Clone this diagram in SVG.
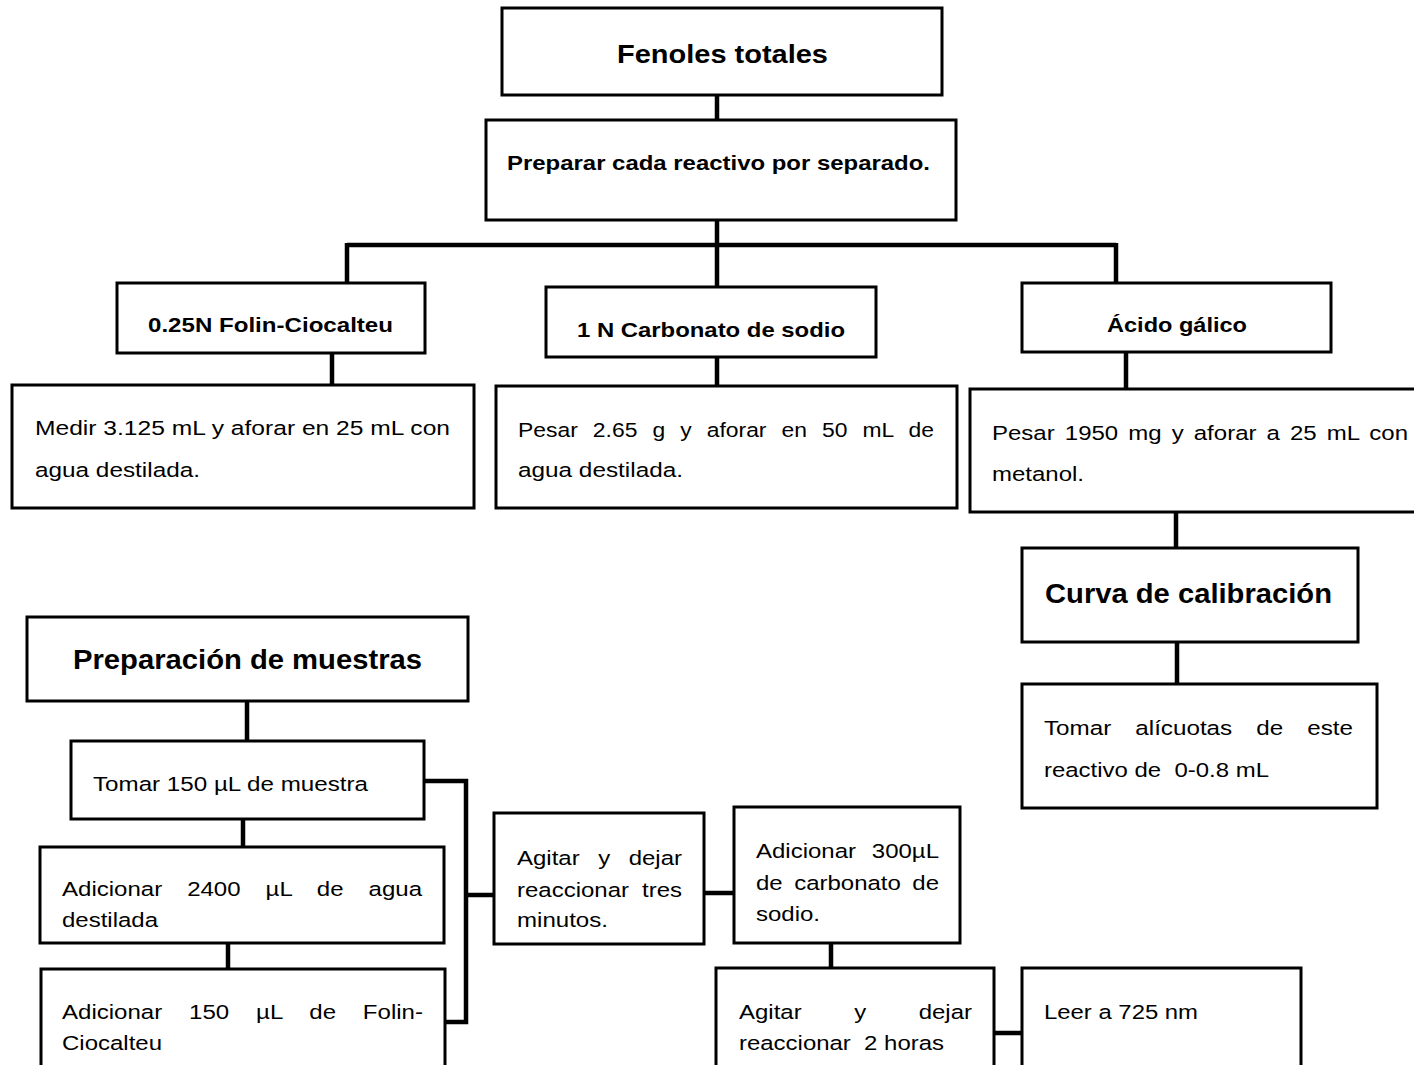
<svg xmlns="http://www.w3.org/2000/svg" width="1414" height="1065" viewBox="0 0 1414 1065">
<style>
.box{fill:#fff;stroke:#000;stroke-width:3}
.cn{fill:none;stroke:#000;stroke-width:4.5;stroke-linejoin:miter}
text{font-family:"Liberation Sans",Arial,sans-serif;fill:#000}
.h1{font-size:25px;font-weight:bold}
.h2{font-size:27px;font-weight:bold}
.b{font-size:20.5px;font-weight:bold}
.t{font-size:20.5px}
</style>
<rect width="1414" height="1065" fill="#fff"/>
<g id="connectors">
<path class="cn" d="M717 95V120M717 220V287M347 245H1116M347 243V283M1116 243V283M332 353V385M717 357V386M1126 352V389M1176 512V548M1177 642V684M247 701V741M243 819V847M228 943V969"/>
<path class="cn" stroke-width="4" d="M424 781H466V1022H445M466 895H494M704 893H734M831 943V968M994 1033H1022"/>
</g>
<g id="n1"><rect class="box" x="502" y="8" width="440" height="87"/><text class="h1" x="617" y="63" textLength="211" lengthAdjust="spacingAndGlyphs">Fenoles totales</text></g>
<g id="n2"><rect class="box" x="486" y="120" width="470" height="100"/><text class="b" x="507" y="170" textLength="423" lengthAdjust="spacingAndGlyphs">Preparar cada reactivo por separado.</text></g>
<g id="n3"><rect class="box" x="117" y="283" width="308" height="70"/><text class="b" x="148" y="332" textLength="245" lengthAdjust="spacingAndGlyphs">0.25N Folin-Ciocalteu</text></g>
<g id="n4"><rect class="box" x="546" y="287" width="330" height="70"/><text class="b" x="577" y="337" textLength="268" lengthAdjust="spacingAndGlyphs">1 N Carbonato de sodio</text></g>
<g id="n5"><rect class="box" x="1022" y="283" width="309" height="69"/><text class="b" x="1107" y="332" textLength="140" lengthAdjust="spacingAndGlyphs">Ácido gálico</text></g>
<g id="n6"><rect class="box" x="12" y="385" width="462" height="123"/>
<text class="t" x="35" y="435" textLength="415" lengthAdjust="spacingAndGlyphs">Medir 3.125 mL y aforar en 25 mL con</text>
<text class="t" x="35" y="477" textLength="165" lengthAdjust="spacingAndGlyphs">agua destilada.</text></g>
<g id="n7"><rect class="box" x="496" y="386" width="461" height="122"/>
<text class="t" x="518" y="437" textLength="416" lengthAdjust="spacingAndGlyphs" style="word-spacing:7.8px">Pesar 2.65 g y aforar en 50 mL de</text>
<text class="t" x="518" y="477" textLength="165" lengthAdjust="spacingAndGlyphs">agua destilada.</text></g>
<g id="n8"><rect class="box" x="970" y="389" width="460" height="123"/>
<text class="t" x="992" y="440" textLength="416" lengthAdjust="spacingAndGlyphs" style="word-spacing:2.9px">Pesar 1950 mg y aforar a 25 mL con</text>
<text class="t" x="992" y="481" textLength="92" lengthAdjust="spacingAndGlyphs">metanol.</text></g>
<g id="n9"><rect class="box" x="1022" y="548" width="336" height="94"/><text class="h2" x="1045" y="603" textLength="287" lengthAdjust="spacingAndGlyphs">Curva de calibración</text></g>
<g id="n10"><rect class="box" x="1022" y="684" width="355" height="124"/>
<text class="t" x="1044" y="735" textLength="309" lengthAdjust="spacingAndGlyphs" style="word-spacing:14.7px">Tomar alícuotas de este</text>
<text class="t" x="1044" y="777" textLength="225" lengthAdjust="spacingAndGlyphs" xml:space="preserve">reactivo de  0-0.8 mL</text></g>
<g id="n11"><rect class="box" x="27" y="617" width="441" height="84"/><text class="h2" x="73" y="669" textLength="349" lengthAdjust="spacingAndGlyphs">Preparación de muestras</text></g>
<g id="n12"><rect class="box" x="71" y="741" width="353" height="78"/><text class="t" x="93" y="791" textLength="275" lengthAdjust="spacingAndGlyphs">Tomar 150 µL de muestra</text></g>
<g id="n13"><rect class="box" x="40" y="847" width="404" height="96"/>
<text class="t" x="62" y="896" textLength="360" lengthAdjust="spacingAndGlyphs" style="word-spacing:15.6px">Adicionar 2400 µL de agua</text>
<text class="t" x="62" y="927" textLength="96" lengthAdjust="spacingAndGlyphs">destilada</text></g>
<g id="n14"><rect class="box" x="41" y="969" width="404" height="110"/>
<text class="t" x="62" y="1019" textLength="361" lengthAdjust="spacingAndGlyphs" style="word-spacing:17.2px">Adicionar 150 µL de Folin-</text>
<text class="t" x="62" y="1050" textLength="100" lengthAdjust="spacingAndGlyphs">Ciocalteu</text></g>
<g id="n15"><rect class="box" x="494" y="813" width="210" height="131"/>
<text class="t" x="517" y="865" textLength="165" lengthAdjust="spacingAndGlyphs" style="word-spacing:10.1px">Agitar y dejar</text>
<text class="t" x="517" y="897" textLength="165" lengthAdjust="spacingAndGlyphs" style="word-spacing:5.4px">reaccionar tres</text>
<text class="t" x="517" y="927" textLength="91" lengthAdjust="spacingAndGlyphs">minutos.</text></g>
<g id="n16"><rect class="box" x="734" y="807" width="226" height="136"/>
<text class="t" x="756" y="858" textLength="183" lengthAdjust="spacingAndGlyphs" style="word-spacing:7.9px">Adicionar 300µL</text>
<text class="t" x="756" y="890" textLength="183" lengthAdjust="spacingAndGlyphs" style="word-spacing:4.1px">de carbonato de</text>
<text class="t" x="756" y="921" textLength="64" lengthAdjust="spacingAndGlyphs">sodio.</text></g>
<g id="n17"><rect class="box" x="716" y="968" width="278" height="110"/>
<text class="t" x="739" y="1019" textLength="233" lengthAdjust="spacingAndGlyphs" style="word-spacing:39.2px">Agitar y dejar</text>
<text class="t" x="739" y="1050" textLength="205" lengthAdjust="spacingAndGlyphs" xml:space="preserve">reaccionar  2 horas</text></g>
<g id="n18"><rect class="box" x="1022" y="968" width="279" height="110"/><text class="t" x="1044" y="1019" textLength="154" lengthAdjust="spacingAndGlyphs">Leer a 725 nm</text></g>
</svg>
